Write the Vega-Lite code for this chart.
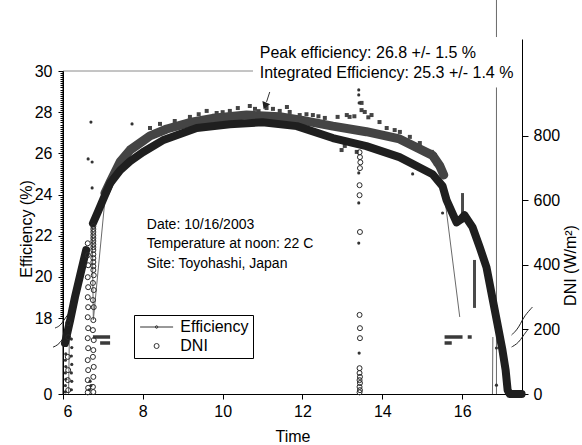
{
  "$schema": "https://vega.github.io/schema/vega-lite/v6.json",
  "width": 459,
  "height": 323,
  "autosize": {"type": "none"},
  "padding": {"left": 63, "top": 71, "right": 60, "bottom": 51},
  "background": "white",
  "config": {
    "view": {"stroke": null},
    "font": "Liberation Sans",
    "axis": {
      "labelFont": "Liberation Sans", "titleFont": "Liberation Sans",
      "labelColor": "black", "titleColor": "black", "domainColor": "black", "tickColor": "black",
      "titleFontWeight": "normal", "labelFontSize": 16, "titleFontSize": 16, "grid": false
    }
  },
  "datasets": {
    "frame": [{"t": 6, "t2": 10.76, "eff": 30}],
    "leftLine": [{"t": 6, "eff": 0, "eff2": 30}],
    "effBand": [
      {"t": 7.05, "eff": 24.07}, {"t": 7.18, "eff": 24.6}, {"t": 7.43, "eff": 25.58}, {"t": 7.68, "eff": 26.16},
      {"t": 8.0, "eff": 26.6}, {"t": 8.18, "eff": 26.85}, {"t": 8.6, "eff": 27.18}, {"t": 9.18, "eff": 27.5},
      {"t": 9.75, "eff": 27.7}, {"t": 10.6, "eff": 27.86}, {"t": 11.43, "eff": 27.78}, {"t": 12.0, "eff": 27.6},
      {"t": 12.76, "eff": 27.32}, {"t": 13.6, "eff": 27.05}, {"t": 14.43, "eff": 26.7}, {"t": 15.26, "eff": 25.9},
      {"t": 15.44, "eff": 25.39}, {"t": 15.54, "eff": 24.95}
    ],
    "effNoise": [
      {"t": 8.18, "eff": 27.23}, {"t": 8.43, "eff": 27.43}, {"t": 8.8, "eff": 27.57}, {"t": 9.18, "eff": 27.77},
      {"t": 9.6, "eff": 28.06}, {"t": 9.85, "eff": 27.96}, {"t": 10.18, "eff": 28.06}, {"t": 10.38, "eff": 28.2},
      {"t": 10.68, "eff": 28.3}, {"t": 10.81, "eff": 28.16}, {"t": 11.26, "eff": 28.16}, {"t": 11.43, "eff": 28.06},
      {"t": 11.61, "eff": 28.25}, {"t": 11.68, "eff": 28.01}, {"t": 11.93, "eff": 27.86}, {"t": 12.26, "eff": 27.86},
      {"t": 12.56, "eff": 27.72}, {"t": 12.88, "eff": 27.77}, {"t": 13.11, "eff": 27.86}, {"t": 13.18, "eff": 27.77},
      {"t": 13.48, "eff": 28.45}, {"t": 13.48, "eff": 28.1}, {"t": 13.56, "eff": 28.01}, {"t": 13.73, "eff": 27.86},
      {"t": 13.93, "eff": 27.52}, {"t": 14.11, "eff": 27.23}, {"t": 14.31, "eff": 27.13}, {"t": 14.44, "eff": 27.04},
      {"t": 14.69, "eff": 26.8}, {"t": 14.94, "eff": 26.5}, {"t": 15.24, "eff": 26.07}, {"t": 15.31, "eff": 25.92},
      {"t": 15.34, "eff": 25.5}, {"t": 12.98, "eff": 26.16}, {"t": 13.36, "eff": 26.07}, {"t": 13.06, "eff": 26.36},
      {"t": 9.4, "eff": 27.9}, {"t": 10.0, "eff": 28.0}, {"t": 10.9, "eff": 28.05}, {"t": 11.1, "eff": 28.2},
      {"t": 12.1, "eff": 27.9}, {"t": 12.4, "eff": 27.8}, {"t": 13.3, "eff": 27.8}, {"t": 13.65, "eff": 27.75}
    ],
    "thin": [
      {"seg": "a", "i": 1, "t": 6.73, "eff": 22.42}, {"seg": "a", "i": 2, "t": 6.76, "eff": 17.53}, {"seg": "a", "i": 3, "t": 7.05, "eff": 23.73},
      {"seg": "b", "i": 1, "t": 15.54, "eff": 24.22}, {"seg": "b", "i": 2, "t": 15.94, "eff": 18.05},
      {"seg": "c", "i": 1, "t": 16.86, "eff": 0}, {"seg": "c", "i": 2, "t": 16.86, "eff": 29.2},
      {"seg": "d", "i": 1, "t": 16.86, "eff": 31.65}, {"seg": "d", "i": 2, "t": 16.86, "eff": 33.5},
      {"seg": "e", "i": 1, "t": 16.76, "eff": 0}, {"seg": "e", "i": 2, "t": 16.77, "eff": 13.5},
      {"seg": "f", "i": 1, "t": 6.14, "eff": 0}, {"seg": "f", "i": 2, "t": 6.16, "eff": 14.4}
    ],
    "dashes": [
      {"t": 6.75, "t2": 7.18, "eff": 13.5}, {"t": 6.93, "t2": 7.18, "eff": 12.08},
      {"t": 15.56, "t2": 16.01, "eff": 13.5}, {"t": 15.56, "t2": 15.74, "eff": 12.08},
      {"t": 16.14, "t2": 16.24, "eff": 13.5}
    ],
    "strips": [
      {"t": 16.01, "eff": 22.86, "eff2": 24.07}, {"t": 16.31, "eff": 18.49, "eff2": 20.82}
    ],
    "effDots": [
      {"t": 6.7, "eff": 27.52}, {"t": 6.63, "eff": 25.73}, {"t": 6.73, "eff": 25.58}, {"t": 6.73, "eff": 24.32},
      {"t": 7.73, "eff": 27.43}, {"t": 14.76, "eff": 25.0}, {"t": 15.51, "eff": 23.1},
      {"t": 13.41, "eff": 29.08}, {"t": 13.41, "eff": 28.84}, {"t": 13.42, "eff": 28.45}, {"t": 13.41, "eff": 25.05},
      {"t": 13.41, "eff": 23.59}, {"t": 13.41, "eff": 21.64}, {"t": 13.42, "eff": 9.7},
      {"t": 16.86, "eff": 10.9}, {"t": 16.86, "eff": 2.1},
      {"t": 6.06, "eff": 0.5}, {"t": 6.06, "eff": 2.0}, {"t": 6.07, "eff": 3.5}, {"t": 6.06, "eff": 5.0},
      {"t": 6.07, "eff": 6.5}, {"t": 6.06, "eff": 8.0}, {"t": 6.07, "eff": 9.5},
      {"t": 6.21, "eff": 1.0}, {"t": 6.22, "eff": 3.0}, {"t": 6.21, "eff": 5.0}, {"t": 6.22, "eff": 7.0},
      {"t": 6.21, "eff": 9.0}, {"t": 6.22, "eff": 11.0}, {"t": 6.21, "eff": 13.0},
      {"t": 6.66, "eff": 1.0}, {"t": 6.68, "eff": 3.0}, {"t": 6.7, "eff": 2.0}
    ],
    "arrow": [{"t": 11.18, "eff": 28.98, "t2": 11.1, "eff2": 28.5}],
    "arrowHead": [{"t": 11.06, "eff": 28.3}],
    "breaks": [
      {"c": "l1", "i": 1, "t": 5.8, "eff": 15.63}, {"c": "l1", "i": 2, "t": 5.925, "eff": 16.1}, {"c": "l1", "i": 3, "t": 6.025, "eff": 17.5}, {"c": "l1", "i": 4, "t": 6.125, "eff": 18.19}, {"c": "l1", "i": 5, "t": 6.225, "eff": 18.34},
      {"c": "l2", "i": 1, "t": 5.75, "eff": 11.1}, {"c": "l2", "i": 2, "t": 5.875, "eff": 11.6}, {"c": "l2", "i": 3, "t": 5.975, "eff": 12.8}, {"c": "l2", "i": 4, "t": 6.075, "eff": 14.0}, {"c": "l2", "i": 5, "t": 6.175, "eff": 14.4},
      {"c": "r1", "i": 1, "t": 17.24, "eff": 13.97}, {"c": "r1", "i": 2, "t": 17.37, "eff": 15.16}, {"c": "r1", "i": 3, "t": 17.46, "eff": 16.58}, {"c": "r1", "i": 4, "t": 17.56, "eff": 18.1}, {"c": "r1", "i": 5, "t": 17.76, "eff": 18.53},
      {"c": "r2", "i": 1, "t": 17.24, "eff": 11.13}, {"c": "r2", "i": 2, "t": 17.37, "eff": 11.84}, {"c": "r2", "i": 3, "t": 17.46, "eff": 12.79}, {"c": "r2", "i": 4, "t": 17.56, "eff": 14.2}, {"c": "r2", "i": 5, "t": 17.64, "eff": 15.16}
    ],
    "topText": [
      {"t": 10.93, "eff": 30.62, "label": "Peak efficiency: 26.8 +/- 1.5 %"},
      {"t": 10.93, "eff": 29.67, "label": "Integrated Efficiency: 25.3 +/- 1.4 %"}
    ],
    "dateText": [
      {"t": 8.1, "eff": 22.31, "label": "Date: 10/16/2003"},
      {"t": 8.1, "eff": 21.39, "label": "Temperature at noon: 22 C"},
      {"t": 8.1, "eff": 20.44, "label": "Site: Toyohashi, Japan"}
    ],
    "dniBand": [
      {"seg": 1, "t": 6.05, "dni": 158}, {"seg": 1, "t": 6.18, "dni": 229}, {"seg": 1, "t": 6.3, "dni": 300}, {"seg": 1, "t": 6.43, "dni": 368}, {"seg": 1, "t": 6.58, "dni": 446},
      {"seg": 2, "t": 6.75, "dni": 529}, {"seg": 2, "t": 6.88, "dni": 566}, {"seg": 2, "t": 7.0, "dni": 601}, {"seg": 2, "t": 7.18, "dni": 653},
      {"seg": 2, "t": 7.43, "dni": 693}, {"seg": 2, "t": 7.68, "dni": 721}, {"seg": 2, "t": 8.0, "dni": 749}, {"seg": 2, "t": 8.5, "dni": 786},
      {"seg": 2, "t": 9.35, "dni": 824}, {"seg": 2, "t": 10.18, "dni": 836}, {"seg": 2, "t": 11.0, "dni": 842}, {"seg": 2, "t": 11.86, "dni": 830},
      {"seg": 2, "t": 12.76, "dni": 793}, {"seg": 2, "t": 13.6, "dni": 768}, {"seg": 2, "t": 14.43, "dni": 734}, {"seg": 2, "t": 15.26, "dni": 681},
      {"seg": 2, "t": 15.51, "dni": 644}, {"seg": 2, "t": 15.61, "dni": 601}, {"seg": 2, "t": 15.86, "dni": 532}, {"seg": 2, "t": 15.96, "dni": 540},
      {"seg": 2, "t": 16.06, "dni": 554}, {"seg": 2, "t": 16.26, "dni": 517}, {"seg": 2, "t": 16.44, "dni": 455}, {"seg": 2, "t": 16.61, "dni": 393},
      {"seg": 2, "t": 16.76, "dni": 297}, {"seg": 2, "t": 16.89, "dni": 214}, {"seg": 2, "t": 17.01, "dni": 136}, {"seg": 2, "t": 17.09, "dni": 74},
      {"seg": 2, "t": 17.14, "dni": 12}, {"seg": 2, "t": 17.19, "dni": 0}, {"seg": 2, "t": 17.49, "dni": 0}
    ],
    "dniCircles": [
      {"series": "DNI", "t": 6.13, "dni": 220}, {"series": "DNI", "t": 6.13, "dni": 176}, {"series": "DNI", "t": 6.12, "dni": 115}, {"series": "DNI", "t": 6.13, "dni": 74}, {"series": "DNI", "t": 6.12, "dni": 43}, {"series": "DNI", "t": 6.13, "dni": 12},
      {"series": "DNI", "t": 6.62, "dni": 467}, {"series": "DNI", "t": 6.62, "dni": 430}, {"series": "DNI", "t": 6.63, "dni": 399}, {"series": "DNI", "t": 6.62, "dni": 362}, {"series": "DNI", "t": 6.63, "dni": 331}, {"series": "DNI", "t": 6.62, "dni": 300},
      {"series": "DNI", "t": 6.63, "dni": 269}, {"series": "DNI", "t": 6.62, "dni": 238}, {"series": "DNI", "t": 6.63, "dni": 204}, {"series": "DNI", "t": 6.62, "dni": 173}, {"series": "DNI", "t": 6.63, "dni": 142}, {"series": "DNI", "t": 6.62, "dni": 105},
      {"series": "DNI", "t": 6.63, "dni": 74}, {"series": "DNI", "t": 6.62, "dni": 43}, {"series": "DNI", "t": 6.63, "dni": 19}, {"series": "DNI", "t": 6.62, "dni": 5},
      {"series": "DNI", "t": 6.76, "dni": 520}, {"series": "DNI", "t": 6.76, "dni": 511}, {"series": "DNI", "t": 6.76, "dni": 502}, {"series": "DNI", "t": 6.76, "dni": 492},
      {"series": "DNI", "t": 6.76, "dni": 483}, {"series": "DNI", "t": 6.76, "dni": 474}, {"series": "DNI", "t": 6.76, "dni": 464}, {"series": "DNI", "t": 6.76, "dni": 455}, {"series": "DNI", "t": 6.76, "dni": 446},
      {"series": "DNI", "t": 6.76, "dni": 433}, {"series": "DNI", "t": 6.76, "dni": 421}, {"series": "DNI", "t": 6.76, "dni": 409}, {"series": "DNI", "t": 6.76, "dni": 396}, {"series": "DNI", "t": 6.76, "dni": 384},
      {"series": "DNI", "t": 6.77, "dni": 368}, {"series": "DNI", "t": 6.75, "dni": 344}, {"series": "DNI", "t": 6.77, "dni": 322}, {"series": "DNI", "t": 6.75, "dni": 291}, {"series": "DNI", "t": 6.77, "dni": 269},
      {"series": "DNI", "t": 6.76, "dni": 229}, {"series": "DNI", "t": 6.75, "dni": 198}, {"series": "DNI", "t": 6.77, "dni": 167}, {"series": "DNI", "t": 6.76, "dni": 136}, {"series": "DNI", "t": 6.75, "dni": 115},
      {"series": "DNI", "t": 6.77, "dni": 84}, {"series": "DNI", "t": 6.76, "dni": 53}, {"series": "DNI", "t": 6.75, "dni": 22}, {"series": "DNI", "t": 6.76, "dni": 6},
      {"series": "DNI", "t": 13.43, "dni": 749}, {"series": "DNI", "t": 13.44, "dni": 734}, {"series": "DNI", "t": 13.45, "dni": 718}, {"series": "DNI", "t": 13.44, "dni": 700}, {"series": "DNI", "t": 13.43, "dni": 647},
      {"series": "DNI", "t": 13.43, "dni": 616}, {"series": "DNI", "t": 13.44, "dni": 502}, {"series": "DNI", "t": 13.43, "dni": 245}, {"series": "DNI", "t": 13.44, "dni": 204}, {"series": "DNI", "t": 13.44, "dni": 173},
      {"series": "DNI", "t": 13.43, "dni": 80}, {"series": "DNI", "t": 13.43, "dni": 65}, {"series": "DNI", "t": 13.44, "dni": 53}, {"series": "DNI", "t": 13.43, "dni": 43}, {"series": "DNI", "t": 13.44, "dni": 34},
      {"series": "DNI", "t": 13.43, "dni": 22}, {"series": "DNI", "t": 13.44, "dni": 12}, {"series": "DNI", "t": 13.43, "dni": 5}
    ]
  },
  "layer": [
    {
      "encoding": {
        "x": {
          "field": "t", "type": "quantitative", "title": "Time",
          "scale": {"domain": [6, 17.5], "nice": false, "zero": false},
          "axis": {"values": [6, 8, 10, 12, 14, 16], "tickSize": 5, "labelPadding": 4, "titleY": 47, "titleBaseline": "alphabetic"}
        },
        "y": {
          "field": "eff", "type": "quantitative", "title": "Efficiency (%)",
          "scale": {"domain": [0, 18, 30], "range": [323, 247, 0], "nice": false, "zero": false},
          "axis": {
            "orient": "left",
            "values": [0, 18, 20, 22, 24, 26, 28, 30],
            "format": "d",
            "labelOverlap": false,
            "tickSize": 5,
            "labelPadding": 6,
            "titleX": -31.5, "titleY": 157.5, "titleAngle": 270, "titleAlign": "center", "titleBaseline": "alphabetic"
          }
        }
      },
      "layer": [
        {"data": {"name": "frame"}, "mark": {"type": "rule", "color": "#8a8a8a", "strokeWidth": 1}, "encoding": {"x2": {"field": "t2"}}},
        {"data": {"name": "leftLine"}, "mark": {"type": "rule", "color": "black", "strokeWidth": 1}, "encoding": {"y2": {"field": "eff2"}}},
        {"data": {"name": "effBand"}, "mark": {"type": "line", "color": "#444444", "strokeWidth": 9, "strokeCap": "round", "strokeJoin": "round"}, "encoding": {}},
        {"data": {"name": "effNoise"}, "mark": {"type": "point", "shape": "square", "filled": true, "size": 16, "color": "#444444", "opacity": 1}, "encoding": {}},
        {"data": {"name": "thin"}, "mark": {"type": "line", "color": "#6a6a6a", "strokeWidth": 1, "clip": false}, "encoding": {"detail": {"field": "seg"}, "order": {"field": "i"}}},
        {"data": {"name": "dashes"}, "mark": {"type": "rule", "color": "#3a3a3a", "strokeWidth": 3.5}, "encoding": {"x2": {"field": "t2"}}},
        {"data": {"name": "strips"}, "mark": {"type": "rule", "color": "#4a4a4a", "strokeWidth": 3}, "encoding": {"y2": {"field": "eff2"}}},
        {"data": {"name": "effDots"}, "mark": {"type": "point", "filled": true, "size": 10, "color": "#333333", "opacity": 1}, "encoding": {}},
        {"data": {"name": "arrow"}, "mark": {"type": "rule", "color": "#333333", "strokeWidth": 1}, "encoding": {"x2": {"field": "t2"}, "y2": {"field": "eff2"}}},
        {"data": {"name": "arrowHead"}, "mark": {"type": "point", "shape": "triangle-down", "angle": 22, "size": 70, "filled": true, "color": "#222222", "opacity": 1}, "encoding": {}},
        {"data": {"name": "breaks"}, "mark": {"type": "line", "color": "#222222", "strokeWidth": 1, "interpolate": "basis", "clip": false}, "encoding": {"detail": {"field": "c"}, "order": {"field": "i"}}},
        {"data": {"name": "topText"}, "mark": {"type": "text", "align": "left", "baseline": "alphabetic", "fontSize": 16, "color": "black", "font": "Liberation Sans"}, "encoding": {"text": {"field": "label"}}},
        {"data": {"name": "dateText"}, "mark": {"type": "text", "align": "left", "baseline": "alphabetic", "fontSize": 14, "color": "black", "font": "Liberation Sans"}, "encoding": {"text": {"field": "label"}}}
      ]
    },
    {
      "data": {"values": [{"eff": 30}]},
      "mark": {"type": "rule", "opacity": 0},
      "encoding": {
        "y": {
          "field": "eff", "type": "quantitative", "title": null,
          "scale": {"domain": [0, 18, 30], "range": [323, 247, 0], "nice": false, "zero": false},
          "axis": {
            "orient": "left", "labels": false, "domain": false, "tickSize": 3, "title": null,
            "values": [18.1, 18.2, 18.3, 18.4, 18.5, 18.6, 18.7, 18.8, 18.9, 19, 19.1, 19.2, 19.3, 19.4, 19.5, 19.6, 19.7, 19.8, 19.9, 20, 20.1, 20.2, 20.3, 20.4, 20.5, 20.6, 20.7, 20.8, 20.9, 21, 21.1, 21.2, 21.3, 21.4, 21.5, 21.6, 21.7, 21.8, 21.9, 22, 22.1, 22.2, 22.3, 22.4, 22.5, 22.6, 22.7, 22.8, 22.9, 23, 23.1, 23.2, 23.3, 23.4, 23.5, 23.6, 23.7, 23.8, 23.9, 24, 24.1, 24.2, 24.3, 24.4, 24.5, 24.6, 24.7, 24.8, 24.9, 25, 25.1, 25.2, 25.3, 25.4, 25.5, 25.6, 25.7, 25.8, 25.9, 26, 26.1, 26.2, 26.3, 26.4, 26.5, 26.6, 26.7, 26.8, 26.9, 27, 27.1, 27.2, 27.3, 27.4, 27.5, 27.6, 27.7, 27.8, 27.9, 28, 28.1, 28.2, 28.3, 28.4, 28.5, 28.6, 28.7, 28.8, 28.9, 29, 29.1, 29.2, 29.3, 29.4, 29.5, 29.6, 29.7, 29.8, 29.9]
          }
        }
      }
    },
    {
      "encoding": {
        "x": {"field": "t", "type": "quantitative", "title": "Time"},
        "y": {
          "field": "dni", "type": "quantitative", "title": "DNI (W/m²)",
          "scale": {"domain": [0, 1100], "range": [323, -32], "nice": false, "zero": false},
          "axis": {"orient": "right", "values": [0, 200, 400, 600, 800], "labelOverlap": false, "tickSize": 6, "labelPadding": 5, "titleX": 53, "titleY": 194, "titleAngle": 270, "titleAlign": "center", "titleBaseline": "alphabetic"}
        }
      },
      "layer": [
        {"data": {"name": "dniBand"}, "mark": {"type": "line", "color": "#1f1f1f", "strokeWidth": 8, "strokeCap": "round", "strokeJoin": "round"}, "encoding": {"detail": {"field": "seg"}}},
        {
          "data": {"name": "dniCircles"},
          "mark": {"type": "point", "filled": false, "size": 25, "stroke": "#2a2a2a", "strokeWidth": 1, "opacity": 1},
          "encoding": {
            "shape": {
              "field": "series", "type": "nominal",
              "scale": {"domain": ["Efficiency", "DNI"], "range": ["M-6.6,0H6.6M-0.5,0A0.5,0.5 0 1,1 0.5,0A0.5,0.5 0 1,1 -0.5,0", "circle"]},
              "legend": {
                "orient": "none", "legendX": 71, "legendY": 244, "title": null,
                "strokeColor": "black", "fillColor": "white", "padding": 4,
                "symbolOffset": 10.6, "labelOffset": 15.7, "rowPadding": 3,
                "symbolSize": 25, "symbolStrokeColor": "#333333", "symbolStrokeWidth": 1,
                "labelFont": "Liberation Sans", "labelFontSize": 16, "labelColor": "black",
                "labelExpr": "datum.label + '\u00a0\u00a0\u00a0'"
              }
            }
          }
        }
      ]
    }
  ],
  "resolve": {"scale": {"y": "independent"}}
}
